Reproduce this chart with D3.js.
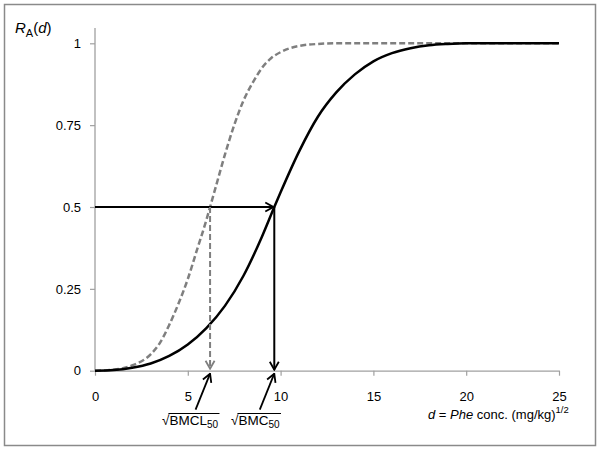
<!DOCTYPE html>
<html>
<head>
<meta charset="utf-8">
<script src="https://cdn.jsdelivr.net/npm/d3@7"></script>
<style>
  body { margin: 0; background: #fff; }
  text { font-family: "Liberation Sans", Arial, sans-serif; }
</style>
</head>
<body>
<div id="chart"></div>
<script>
const W = 602, H = 454;

// dose grid (sqrt scale) and responses
const doseBMC = [0, 1, 2, 3, 4, 5, 6, 7, 8, 9, 9.66, 10, 11, 12, 13, 14, 15, 16, 17, 18, 19, 20, 25];
const respBMC = [0, 0.002, 0.009, 0.022, 0.045, 0.08, 0.13, 0.198, 0.29, 0.41, 0.5, 0.545, 0.67, 0.775, 0.85, 0.905, 0.945, 0.97, 0.985, 0.994, 0.998, 1, 1];

const doseBMCL = [0, 1, 2, 3, 3.5, 4, 4.5, 5, 5.5, 6, 6.2, 6.5, 7, 7.5, 8, 8.5, 9, 9.5, 10, 10.5, 11, 12, 13, 25];
const respBMCL = [0, 0.003, 0.016, 0.05, 0.085, 0.14, 0.205, 0.28, 0.37, 0.46, 0.5, 0.56, 0.66, 0.75, 0.825, 0.88, 0.925, 0.955, 0.973, 0.985, 0.992, 0.998, 1, 1];

const BMC50 = 9.66, BMCL50 = 6.2, LEVEL = 0.5;

const xTicks = [0, 5, 10, 15, 20, 25];
const yTicks = [0, 0.25, 0.5, 0.75, 1];
const yTickLabels = ["0", "0.25", "0.5", "0.75", "1"];

const svg = d3.select("#chart").append("svg")
    .attr("width", W).attr("height", H);

// outer frame
svg.append("rect")
    .attr("x", 4.5).attr("y", 4.5)
    .attr("width", 591).attr("height", 441)
    .attr("fill", "none").attr("stroke", "#8a8a8a").attr("stroke-width", 1.5);

const x = d3.scaleLinear().domain([0, 25]).range([95, 559]);
const y = d3.scaleLinear().domain([0, 1]).range([370.7, 43.3]);

const defs = svg.append("defs");
function arrowMarker(id, color) {
  defs.append("marker")
      .attr("id", id)
      .attr("markerUnits", "userSpaceOnUse")
      .attr("viewBox", "-1 -6 10 12")
      .attr("markerWidth", 10).attr("markerHeight", 12)
      .attr("refX", 8).attr("refY", 0)
      .attr("orient", "auto")
    .append("path")
      .attr("d", "M0,-4.5L8,0L0,4.5")
      .attr("fill", "none")
      .attr("stroke", color)
      .attr("stroke-width", 1.8)
      .attr("stroke-dasharray", "none");
}
arrowMarker("arrBlack", "#000");
arrowMarker("arrGray", "#7f7f7f");

// axes
const xAxis = svg.append("g")
    .attr("transform", `translate(0,${y(0)})`)
    .call(d3.axisBottom(x).tickValues(xTicks).tickSize(5).tickSizeOuter(0).tickFormat(d3.format("d")));
const yAxis = svg.append("g")
    .attr("transform", `translate(${x(0)},0)`)
    .call(d3.axisLeft(y).tickValues(yTicks).tickSize(5).tickSizeOuter(0)
      .tickFormat((d, i) => yTickLabels[i]));

[xAxis, yAxis].forEach(g => {
  g.select(".domain").attr("stroke", "#a0a0a0").attr("stroke-width", 1.3);
  g.selectAll(".tick line").attr("stroke", "#a0a0a0").attr("stroke-width", 1.2);
  g.selectAll("text").attr("font-size", 13).attr("fill", "#000")
    .attr("font-family", "Liberation Sans, Arial, sans-serif");
});
xAxis.selectAll("text").attr("dy", null).attr("y", 30);
yAxis.selectAll("text").attr("x", -14);
// y axis line runs a little above 1
yAxis.select(".domain").attr("d", `M0,${y(0)}V28`);

// curves
const line = d3.line().x(d => x(d[0])).y(d => y(d[1])).curve(d3.curveMonotoneX);

svg.append("path")
    .datum(d3.zip(doseBMCL, respBMCL))
    .attr("d", line)
    .attr("fill", "none")
    .attr("stroke", "#7f7f7f")
    .attr("stroke-width", 2.5)
    .attr("stroke-dasharray", "6,3");

svg.append("path")
    .datum(d3.zip(doseBMC, respBMC))
    .attr("d", line)
    .attr("fill", "none")
    .attr("stroke", "#000")
    .attr("stroke-width", 2.5);

// reading arrows
svg.append("line")
    .attr("x1", x(0)).attr("y1", y(LEVEL))
    .attr("x2", x(BMC50) - 1).attr("y2", y(LEVEL))
    .attr("stroke", "#000").attr("stroke-width", 2)
    .attr("marker-end", "url(#arrBlack)");

svg.append("line")
    .attr("x1", x(BMC50)).attr("y1", y(LEVEL))
    .attr("x2", x(BMC50)).attr("y2", y(0) - 1)
    .attr("stroke", "#000").attr("stroke-width", 2)
    .attr("marker-end", "url(#arrBlack)");

svg.append("line")
    .attr("x1", x(BMCL50)).attr("y1", y(LEVEL))
    .attr("x2", x(BMCL50)).attr("y2", y(0) - 2)
    .attr("stroke", "#7f7f7f").attr("stroke-width", 2)
    .attr("stroke-dasharray", "6,3")
    .attr("marker-end", "url(#arrGray)");

// labels under the axis pointing at the two doses
function rootLabel(dose, name, tx) {
  svg.append("line")
      .attr("x1", x(dose) - 14.5).attr("y1", y(0) + 39)
      .attr("x2", x(dose)).attr("y2", y(0) + 3)
      .attr("stroke", "#000").attr("stroke-width", 1.8)
      .attr("marker-end", "url(#arrBlack)");

  const t = svg.append("text")
      .attr("x", tx).attr("y", 425)
      .attr("font-size", 13.5);
  const root = t.append("tspan").text("\u221A");
  t.append("tspan").text(name);
  t.append("tspan").attr("font-size", 10).attr("dy", 3).text("50");

  const rootW = root.node().getComputedTextLength();
  const box = t.node().getBBox();
  svg.append("line")
      .attr("x1", tx + rootW - 1).attr("x2", box.x + box.width + 1)
      .attr("y1", 413.5).attr("y2", 413.5)
      .attr("stroke", "#000").attr("stroke-width", 1);
}
rootLabel(BMCL50, "BMCL", 162);
rootLabel(BMC50, "BMC", 231);

// y title
const yt = svg.append("text").attr("x", 15).attr("y", 33).attr("font-size", 15);
yt.append("tspan").attr("font-style", "italic").text("R");
yt.append("tspan").attr("font-size", 11).attr("dy", 4).text("A");
yt.append("tspan").attr("dy", -4).text("(");
yt.append("tspan").attr("font-style", "italic").text("d");
yt.append("tspan").text(")");

// x title
const xt = svg.append("text").attr("x", 428).attr("y", 418.5).attr("font-size", 13);
xt.append("tspan").attr("font-style", "italic").text("d");
xt.append("tspan").text(" = ");
xt.append("tspan").attr("font-style", "italic").text("Phe");
xt.append("tspan").text(" conc. (mg/kg)");
xt.append("tspan").attr("font-size", 9.5).attr("dy", -6).text("1/2");
</script>
</body>
</html>
